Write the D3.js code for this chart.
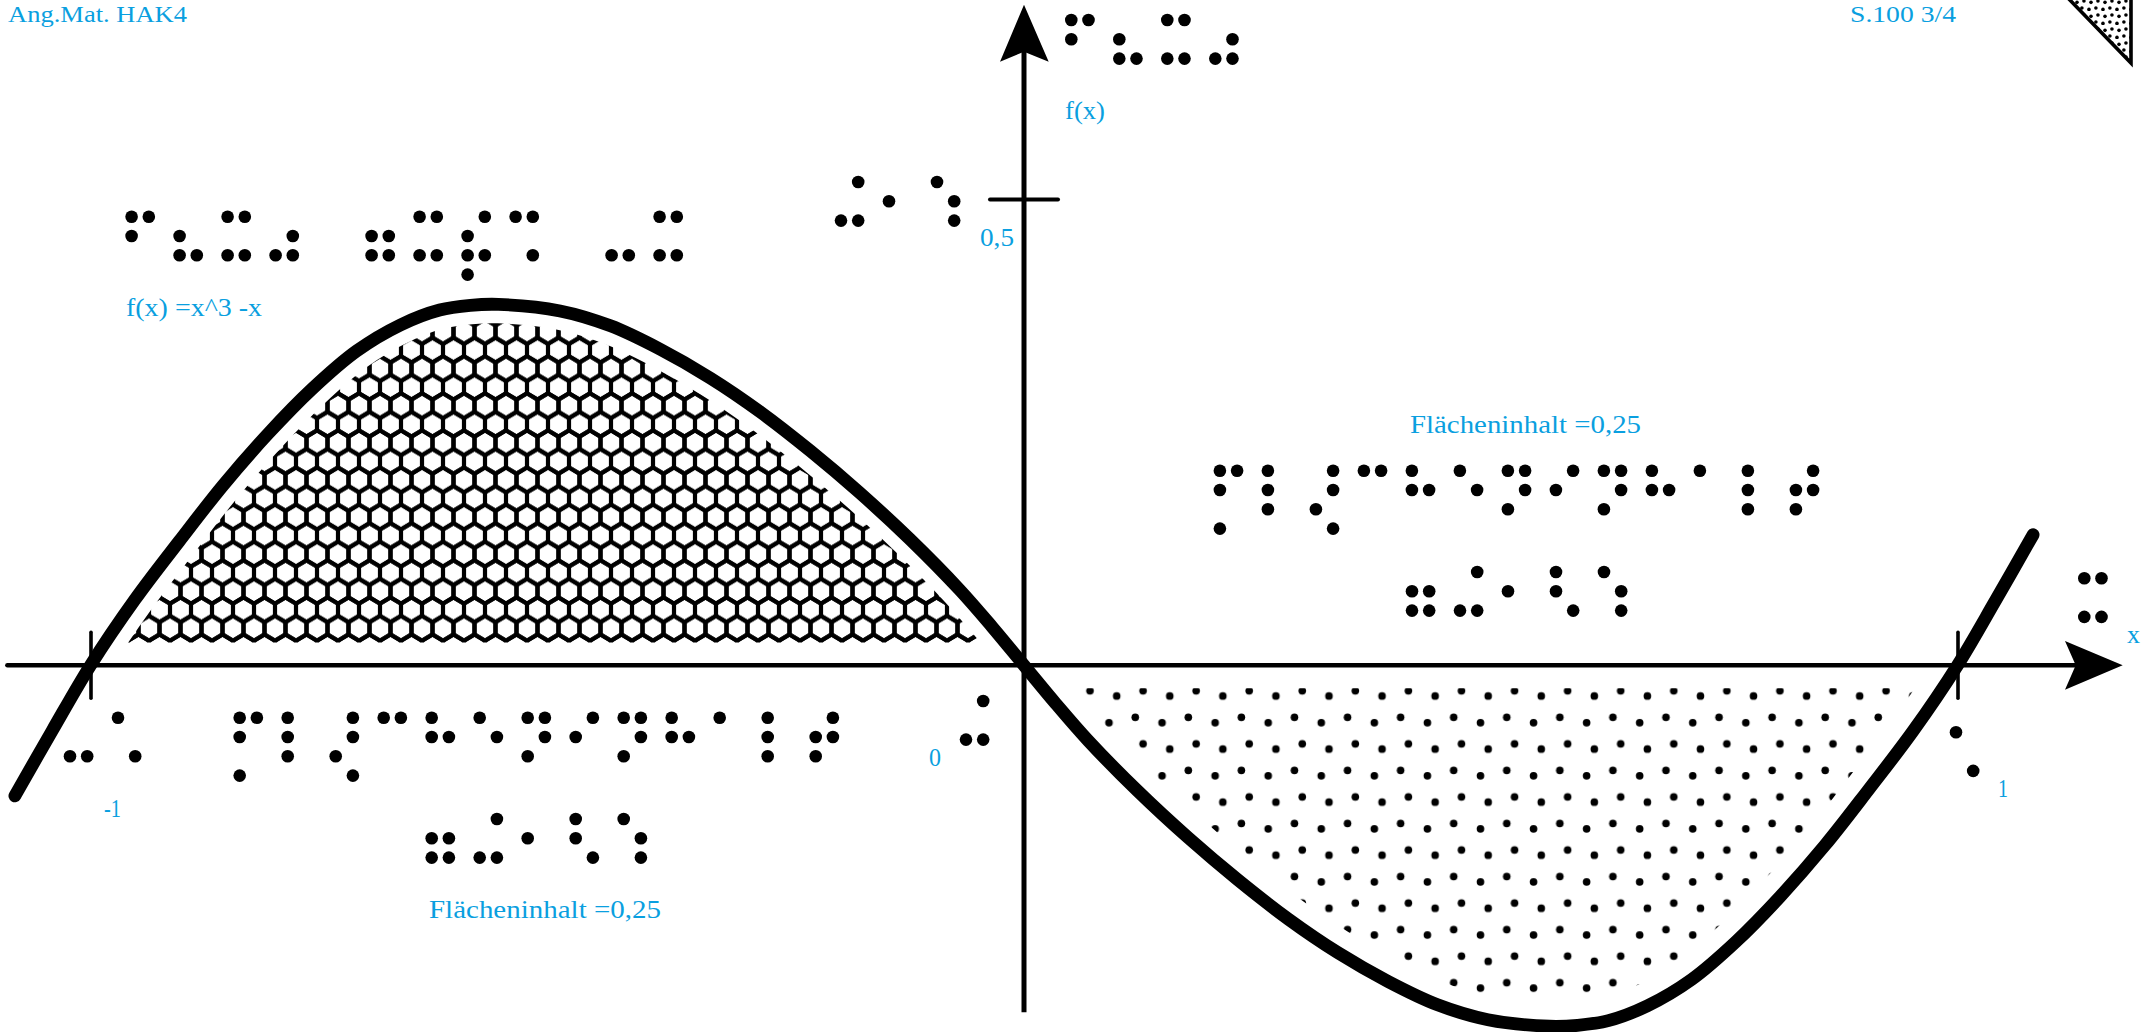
<!DOCTYPE html>
<html>
<head>
<meta charset="utf-8">
<title>f(x) = x^3 - x</title>
<script src="https://cdn.jsdelivr.net/npm/d3@7"></script>
<style>
    body { margin: 0; background: #fff; }
    svg { display: block; }
    .label { font-family: "Liberation Serif", serif; font-size: 26px; fill: #0a9fe0; }
    .label.top { font-size: 24px; }
</style>
</head>
<body>
<div class="chart"></div>
<script>
// curve (function units)
var curveX = [-1.081, -1.041, -1.0, -0.952, -0.905, -0.858, -0.810, -0.763, -0.715, -0.668, -0.626, -0.593, -0.563,
    -0.497, -0.443, -0.390, -0.336, -0.283, -0.229, -0.176, -0.122, -0.069, -0.034, 0,
    0.034, 0.069, 0.122, 0.176, 0.229, 0.283, 0.336, 0.390, 0.443, 0.497,
    0.563, 0.593, 0.626, 0.668, 0.715, 0.763, 0.810, 0.858, 0.905, 0.952, 1.0, 1.041, 1.081];
var curveY = [-0.140, -0.070, 0, 0.071, 0.133, 0.193, 0.248, 0.296, 0.337, 0.365, 0.381, 0.386, 0.387,
    0.380, 0.364, 0.339, 0.308, 0.272, 0.230, 0.185, 0.135, 0.081, 0.041, 0,
    -0.041, -0.081, -0.135, -0.185, -0.230, -0.272, -0.308, -0.339, -0.364, -0.380,
    -0.387, -0.386, -0.381, -0.365, -0.337, -0.296, -0.248, -0.193, -0.133, -0.071, 0, 0.070, 0.140];

var xTicks = [-1, 1];
var yTicks = [0.5];

var labelTexts = ["Ang.Mat. HAK4", "S.100 3/4", "f(x)", "0,5", "f(x) =x^3 -x",
    "Flächeninhalt =0,25", "Flächeninhalt =0,25", "-1", "0", "1", "x"];

// braille cells, each one the list of raised dots
var brailleFx = ["124", "236", "1346", "356"];
var brailleFormula = ["124", "236", "1346", "356", "", "2356", "1346", "23467", "146", "", "36", "1346"];
var brailleAreaWord = ["1247", "123", "3458", "14", "125", "15", "1345", "24", "1345", "125", "1", "123", "2345"];
var brailleAreaValue = ["2356", "346", "2", "126", "156"];
var brailleHalf = ["346", "2", "156"];
var brailleMinusOne = ["36", "16"];
var brailleZero = ["346"];
var brailleOne = ["16"];
var brailleAxisX = ["1346"];

var svgWidth = 2145;
var svgHeight = 1032;

var svg = d3.select(".chart")
    .append("svg")
    .attr("width", svgWidth)
    .attr("height", svgHeight);

var xScale = d3.scaleLinear().domain([-1, 1]).range([90.5, 1957.5]);
var yScale = d3.scaleLinear().domain([0, 0.5]).range([665.3, 199]);

var curvePoints = curveX.map((d, i) => ({x: d, y: curveY[i]}));
var curveLine = d3.line()
    .x(d => xScale(d.x))
    .y(d => yScale(d.y))
    .curve(d3.curveCatmullRom);

var defs = svg.append("defs");

// honeycomb fill for the area above the axis
function hexPath(cx, cy, w, rowH) {
    var r = rowH * 2 / 3;
    var pts = [[0, -r], [w / 2, -r / 2], [w / 2, r / 2], [0, r], [-w / 2, r / 2], [-w / 2, -r / 2]];
    return "M" + pts.map(p => (cx + p[0]) + "," + (cy + p[1])).join("L") + "Z";
}
var hexW = 21, hexRow = 18.55;
var hexTile = defs.append("pattern")
    .attr("id", "hexFill")
    .attr("patternUnits", "userSpaceOnUse")
    .attr("x", 590)
    .attr("y", 628.3)
    .attr("width", hexW)
    .attr("height", hexRow * 2);
[[0, 0], [hexW, 0], [hexW / 2, hexRow], [0, hexRow * 2], [hexW, hexRow * 2]].forEach(function(c) {
    hexTile.append("path")
        .attr("d", hexPath(c[0], c[1], hexW, hexRow))
        .attr("fill", "none")
        .attr("stroke", "#000")
        .attr("stroke-width", 4.2);
});

// dot fill, used for the area below the axis and for the corner mark
function dotPattern(id, x, y, size, r) {
    var k = size / 53.07;
    var tile = defs.append("pattern")
        .attr("id", id)
        .attr("patternUnits", "userSpaceOnUse")
        .attr("x", x)
        .attr("y", y)
        .attr("width", size)
        .attr("height", size);
    [[15, 15], [41.7, 20.3], [7.2, 41.6], [34, 47]].forEach(function(c) {
        tile.append("circle")
            .attr("cx", c[0] * k)
            .attr("cy", c[1] * k)
            .attr("r", r)
            .attr("fill", "#000");
    });
}
dotPattern("dotFill", 1075, 675.7, 53.07, 3.8);
dotPattern("cornerFill", 2052, -3, 14, 1.8);

// the two patterns stop a little short of the axis
var axisGap = 0.0245;
var upperArea = d3.area()
    .x(d => xScale(d.x))
    .y0(yScale(axisGap))
    .y1(d => Math.min(yScale(d.y), yScale(axisGap)))
    .curve(d3.curveCatmullRom);
var lowerArea = d3.area()
    .x(d => xScale(d.x))
    .y0(yScale(-axisGap))
    .y1(d => Math.max(yScale(d.y), yScale(-axisGap)))
    .curve(d3.curveCatmullRom);

svg.append("path")
    .datum(curvePoints.filter(d => d.x >= -1 && d.x <= 0))
    .attr("d", upperArea)
    .attr("fill", "url(#hexFill)");
svg.append("path")
    .datum(curvePoints.filter(d => d.x >= 0 && d.x <= 1))
    .attr("d", lowerArea)
    .attr("fill", "url(#dotFill)");

// white halo keeps the patterns off the curve
svg.append("clipPath").attr("id", "upperSide").append("rect")
    .attr("x", 0).attr("y", 0).attr("width", xScale(0)).attr("height", svgHeight);
svg.append("path")
    .datum(curvePoints)
    .attr("d", curveLine)
    .attr("fill", "none")
    .attr("stroke", "#fff")
    .attr("stroke-width", 38)
    .attr("clip-path", "url(#upperSide)");
svg.append("clipPath").attr("id", "lowerSide").append("rect")
    .attr("x", xScale(0)).attr("y", 0).attr("width", svgWidth - xScale(0)).attr("height", svgHeight);
svg.append("path")
    .datum(curvePoints)
    .attr("d", curveLine)
    .attr("fill", "none")
    .attr("stroke", "#fff")
    .attr("stroke-width", 46)
    .attr("clip-path", "url(#lowerSide)");

// axes
svg.append("line")
    .attr("x1", xScale(-1.089)).attr("x2", xScale(1.132))
    .attr("y1", yScale(0)).attr("y2", yScale(0))
    .attr("stroke", "#000").attr("stroke-width", 4.6).attr("stroke-linecap", "round");
svg.append("line")
    .attr("x1", xScale(0)).attr("x2", xScale(0))
    .attr("y1", yScale(0.665)).attr("y2", yScale(-0.372))
    .attr("stroke", "#000").attr("stroke-width", 5);

var xAxis = svg.append("g")
    .attr("transform", `translate(0, ${yScale(0)})`)
    .call(d3.axisBottom(xScale).tickValues(xTicks).tickSize(33).tickFormat(""));
xAxis.select(".domain").remove();
xAxis.selectAll("line")
    .attr("y1", -33)
    .attr("stroke", "#000")
    .attr("stroke-width", 3.6)
    .attr("stroke-linecap", "round");

var yAxis = svg.append("g")
    .attr("transform", `translate(${xScale(0) + 34}, 0)`)
    .call(d3.axisLeft(yScale).tickValues(yTicks).tickSize(68).tickFormat(""));
yAxis.select(".domain").remove();
yAxis.selectAll("line")
    .attr("stroke", "#000")
    .attr("stroke-width", 4)
    .attr("stroke-linecap", "round");

// arrow heads
svg.append("path")
    .attr("transform", `translate(${xScale(0)}, 4.7)`)
    .attr("d", "M0,0L24.7,57L0,47L-24,57Z")
    .attr("fill", "#000");
svg.append("path")
    .attr("transform", `translate(2122.7, ${yScale(0)})`)
    .attr("d", "M0,0L-57.7,-24.3L-47,0L-57.7,24.4Z")
    .attr("fill", "#000");

// the curve itself
svg.append("path")
    .datum(curvePoints)
    .attr("d", curveLine)
    .attr("fill", "none")
    .attr("stroke", "#000")
    .attr("stroke-width", 12.8)
    .attr("stroke-linecap", "round");

// corner mark
svg.append("path")
    .attr("d", "M2067,-3L2131,63L2131,-3Z")
    .attr("fill", "url(#cornerFill)")
    .attr("stroke", "#000")
    .attr("stroke-width", 3.6)
    .attr("stroke-linejoin", "miter");

// braille blocks, dots 1-3 run down the first column, 4-6 the second, 7 and 8 below
var cellPitch = 48, colPitch = 17.2, rowPitch = 19.3;
var dotPos = {
    1: [0, 0], 2: [0, 1], 3: [0, 2], 4: [1, 0],
    5: [1, 1], 6: [1, 2], 7: [0, 3], 8: [1, 3]
};
function drawBraille(cells, x0, y0) {
    var dots = [];
    cells.forEach(function(cell, i) {
        cell.split("").forEach(function(n) {
            dots.push({cell: i, col: dotPos[n][0], row: dotPos[n][1]});
        });
    });
    svg.append("g")
        .selectAll("circle")
        .data(dots)
        .enter()
        .append("circle")
        .attr("cx", d => x0 + d.cell * cellPitch + d.col * colPitch)
        .attr("cy", d => y0 + d.row * rowPitch)
        .attr("r", 6.3)
        .attr("fill", "#000");
}
drawBraille(brailleFx, 1071.3, 20);
drawBraille(brailleFormula, 131.6, 216.7);
drawBraille(brailleHalf, 841, 182);
drawBraille(brailleAreaWord, 1219.9, 470.7);
drawBraille(brailleAreaValue, 1412, 572);
drawBraille(brailleAreaWord, 239.7, 717.7);
drawBraille(brailleAreaValue, 431.7, 819);
drawBraille(brailleMinusOne, 70, 717.7);
drawBraille(brailleZero, 966, 701);
drawBraille(brailleOne, 1956, 732.3);
drawBraille(brailleAxisX, 2084.3, 578.3);

// text labels: x, baseline, width
var labelX = [8, 1850, 1065, 980, 126, 1410, 429, 104, 929, 1998, 2127];
var labelY = [22, 22, 119, 246, 316, 432.7, 917.7, 816.7, 766, 796.7, 642.7];
var labelW = [179, 106, 40, 34, 136, 231, 232, 17, 12, 10, 13];

svg.append("g")
    .selectAll("text")
    .data(labelTexts)
    .enter()
    .append("text")
    .attr("class", (d, i) => i < 2 ? "label top" : "label")
    .attr("x", (d, i) => labelX[i])
    .attr("y", (d, i) => labelY[i])
    .attr("textLength", (d, i) => labelW[i])
    .attr("lengthAdjust", "spacingAndGlyphs")
    .text(d => d);
</script>
</body>
</html>
